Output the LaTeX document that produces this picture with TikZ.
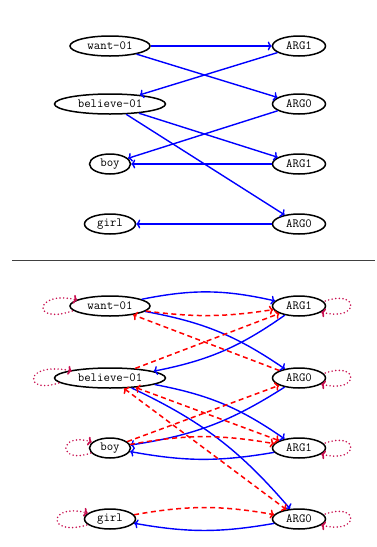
\documentclass[tikz,border=0pt]{standalone}
\usetikzlibrary{shapes.geometric,arrows.meta}
\definecolor{loopc}{RGB}{200,16,80}
\begin{document}
\begin{tikzpicture}[x=1pt,y=-1pt,
  amr/.style={ellipse,draw,line width=1.5pt,inner sep=0pt,minimum height=20pt,font=\fontsize{12.5}{14}\selectfont\ttfamily},
  argn/.style={amr,minimum width=53pt},
  gold/.style={blue,line width=1.4pt,-{To[length=4pt,width=9pt]}},
  pred/.style={red,line width=1.5pt,dash pattern=on 5pt off 3.5pt,-{To[length=4pt,width=9pt]}},
  both/.style={{To[length=4pt,width=9pt]}-{To[length=4pt,width=9pt]}},
  selfloop/.style={loopc,line width=1.7pt,dash pattern=on 0pt off 3.6pt,line cap=round,-{To[length=4pt,width=9pt]}},
  sepline/.style={black!75,line width=0.7pt}
]
\useasboundingbox (0,0) rectangle (377,547);

% ---------- top graph ----------
\node[amr,minimum width=80pt]  (tw)  at (110,46)  {want-01};
\node[argn]                    (ta1) at (299,46)  {ARG1};
\node[amr,minimum width=111pt] (tb)  at (110,104) {believe-01};
\node[argn]                    (tb0) at (299,104) {ARG0};
\node[amr,minimum width=41pt]  (ty)  at (110,164) {boy};
\node[argn]                    (tc1) at (299,164) {ARG1};
\node[amr,minimum width=51pt]  (tg)  at (110,224) {girl};
\node[argn]                    (td0) at (299,224) {ARG0};

\draw[gold] (tw) -- (ta1);
\draw[gold] (tw) -- (tb0);
\draw[gold] (ta1) -- (tb);
\draw[gold] (tb0) -- (ty);
\draw[gold] (tb) -- (tc1);
\draw[gold] (tb) -- (td0);
\draw[gold] (tc1) -- (ty);
\draw[gold] (td0) -- (tg);

% ---------- separator ----------
\coordinate (sl) at (12,260);
\coordinate (sr) at (375,260);
\draw[sepline] (sl) -- (sr);

% ---------- bottom graph ----------
\node[amr,minimum width=80pt]  (bw)  at (110,306) {want-01};
\node[argn]                    (ba1) at (299,306) {ARG1};
\node[amr,minimum width=111pt] (bb)  at (110,378) {believe-01};
\node[argn]                    (bb0) at (299,378) {ARG0};
\node[amr,minimum width=41pt]  (by)  at (110,448) {boy};
\node[argn]                    (bc1) at (299,448) {ARG1};
\node[amr,minimum width=51pt]  (bg)  at (110,519) {girl};
\node[argn]                    (bd0) at (299,519) {ARG0};

% gold edges (curved)
\draw[gold] (bw) to[bend left=12] (ba1);
\draw[gold] (bw) to[bend left=12] (bb0);
\draw[gold] (ba1) to[bend left=12] (bb);
\draw[gold] (bb0) to[bend left=12] (by);
\draw[gold] (bb) to[bend left=12] (bc1);
\draw[gold] (bb) to[bend left=12] (bd0);
\draw[gold] (bc1) to[bend left=10] (by);
\draw[gold] (bd0) to[bend left=10] (bg);

% predicted edges (dashed)
\draw[pred] (bw) to[bend right=8] (ba1);
\draw[pred] (bb) -- (ba1);
\draw[pred] (bb0) -- (bw);
\draw[pred] (by) -- (bb0);
\draw[pred,both] (bb) -- (bc1);
\draw[pred,both] (bb) -- (bd0);
\draw[pred] (by) to[bend left=10] (bc1);
\draw[pred] (bg) to[bend left=10] (bd0);

% self loops, left nodes
\draw[selfloop] ([shift={(3,5)}]bw.west) .. controls +(-42,14) and +(-42,-10) .. ([shift={(8,-6)}]bw.west);
\draw[selfloop] ([shift={(5,5)}]bb.west) .. controls +(-36,12) and +(-48,-10) .. ([shift={(18,-7)}]bb.west);
\draw[selfloop] ([shift={(2,5)}]by.west) .. controls +(-33,12) and +(-34,-10) .. ([shift={(3,-6)}]by.west);
\draw[selfloop] ([shift={(3,6)}]bg.west) .. controls +(-40,12) and +(-40,-10) .. ([shift={(4,-6)}]bg.west);

% self loops, right nodes
\draw[selfloop] ([shift={(-1,-5)}]ba1.east) .. controls +(35,-12) and +(38,10) .. ([shift={(-5,6)}]ba1.east);
\draw[selfloop] ([shift={(-1,-5)}]bb0.east) .. controls +(35,-12) and +(38,10) .. ([shift={(-5,6)}]bb0.east);
\draw[selfloop] ([shift={(-1,-5)}]bc1.east) .. controls +(35,-12) and +(38,10) .. ([shift={(-5,6)}]bc1.east);
\draw[selfloop] ([shift={(-1,-5)}]bd0.east) .. controls +(35,-12) and +(38,10) .. ([shift={(-5,6)}]bd0.east);
\end{tikzpicture}
\end{document}
